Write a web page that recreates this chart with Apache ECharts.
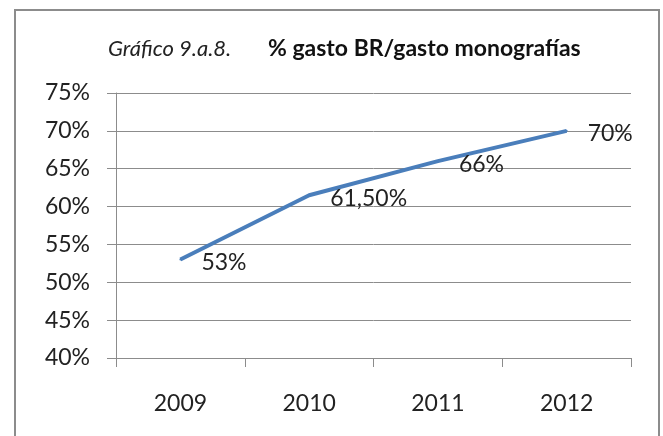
<!DOCTYPE html>
<html>
<head>
<meta charset="utf-8">
<script src="https://cdn.jsdelivr.net/npm/echarts@6/dist/echarts.min.js"></script>
<style>
html, body { margin: 0; padding: 0; background: #fff; }
#chart { width: 663px; height: 436px; }
</style>
</head>
<body>
<div id="chart"></div>
<script>
var years = ['2009', '2010', '2011', '2012'];
var gasto = [53, 61.5, 66, 70];
var labels = ['53%', '61,50%', '66%', '70%'];

var font = 'Lato, "Open Sans", sans-serif';

var myChart = echarts.init(document.getElementById('chart'));
var option = {
    animation: false,
    title: {
        text: '{a|Gráfico 9.a.8.}{b|% gasto BR/gasto monografías}',
        left: 103,
        top: 32,
        textStyle: {
            rich: {
                a: { fontFamily: font, fontStyle: 'italic', fontWeight: 'normal', fontSize: 22, color: '#222', width: 160 },
                b: { fontFamily: font, fontWeight: 'bold', fontSize: 23, color: '#111' }
            }
        }
    },
    graphic: [{
        type: 'rect',
        shape: { x: 15, y: 10, width: 644, height: 440 },
        style: { fill: 'none', stroke: '#8c8c8c', lineWidth: 2 }
    }],
    grid: { left: 116, right: 32, top: 93, bottom: 78 },
    xAxis: {
        type: 'category',
        data: years,
        boundaryGap: true,
        axisLine: { lineStyle: { color: '#8c8c8c', width: 1 } },
        axisTick: { show: true, length: 9, lineStyle: { color: '#8c8c8c' } },
        axisLabel: { fontFamily: font, fontSize: 23, color: '#222', margin: 34 }
    },
    yAxis: {
        type: 'value',
        min: 40,
        max: 75,
        interval: 5,
        axisLine: { show: true, lineStyle: { color: '#8c8c8c', width: 1 } },
        axisTick: { show: true, inside: false, length: 9, lineStyle: { color: '#8c8c8c' } },
        splitLine: { lineStyle: { color: '#8c8c8c', width: 1 } },
        axisLabel: { fontFamily: font, fontSize: 23, color: '#222', margin: 26, formatter: '{value}%' }
    },
    series: [{
        type: 'line',
        data: gasto,
        showSymbol: true,
        symbol: 'circle',
        symbolSize: 2,
        lineStyle: { color: '#4a7ebb', width: 4 },
        itemStyle: { color: '#4a7ebb' },
        label: {
            show: true,
            position: 'right',
            distance: 20,
            offset: [0, 3],
            fontFamily: font,
            fontSize: 23,
            color: '#222',
            formatter: function (p) { return labels[p.dataIndex]; }
        }
    }]
};
myChart.setOption(option);
</script>
</body>
</html>
